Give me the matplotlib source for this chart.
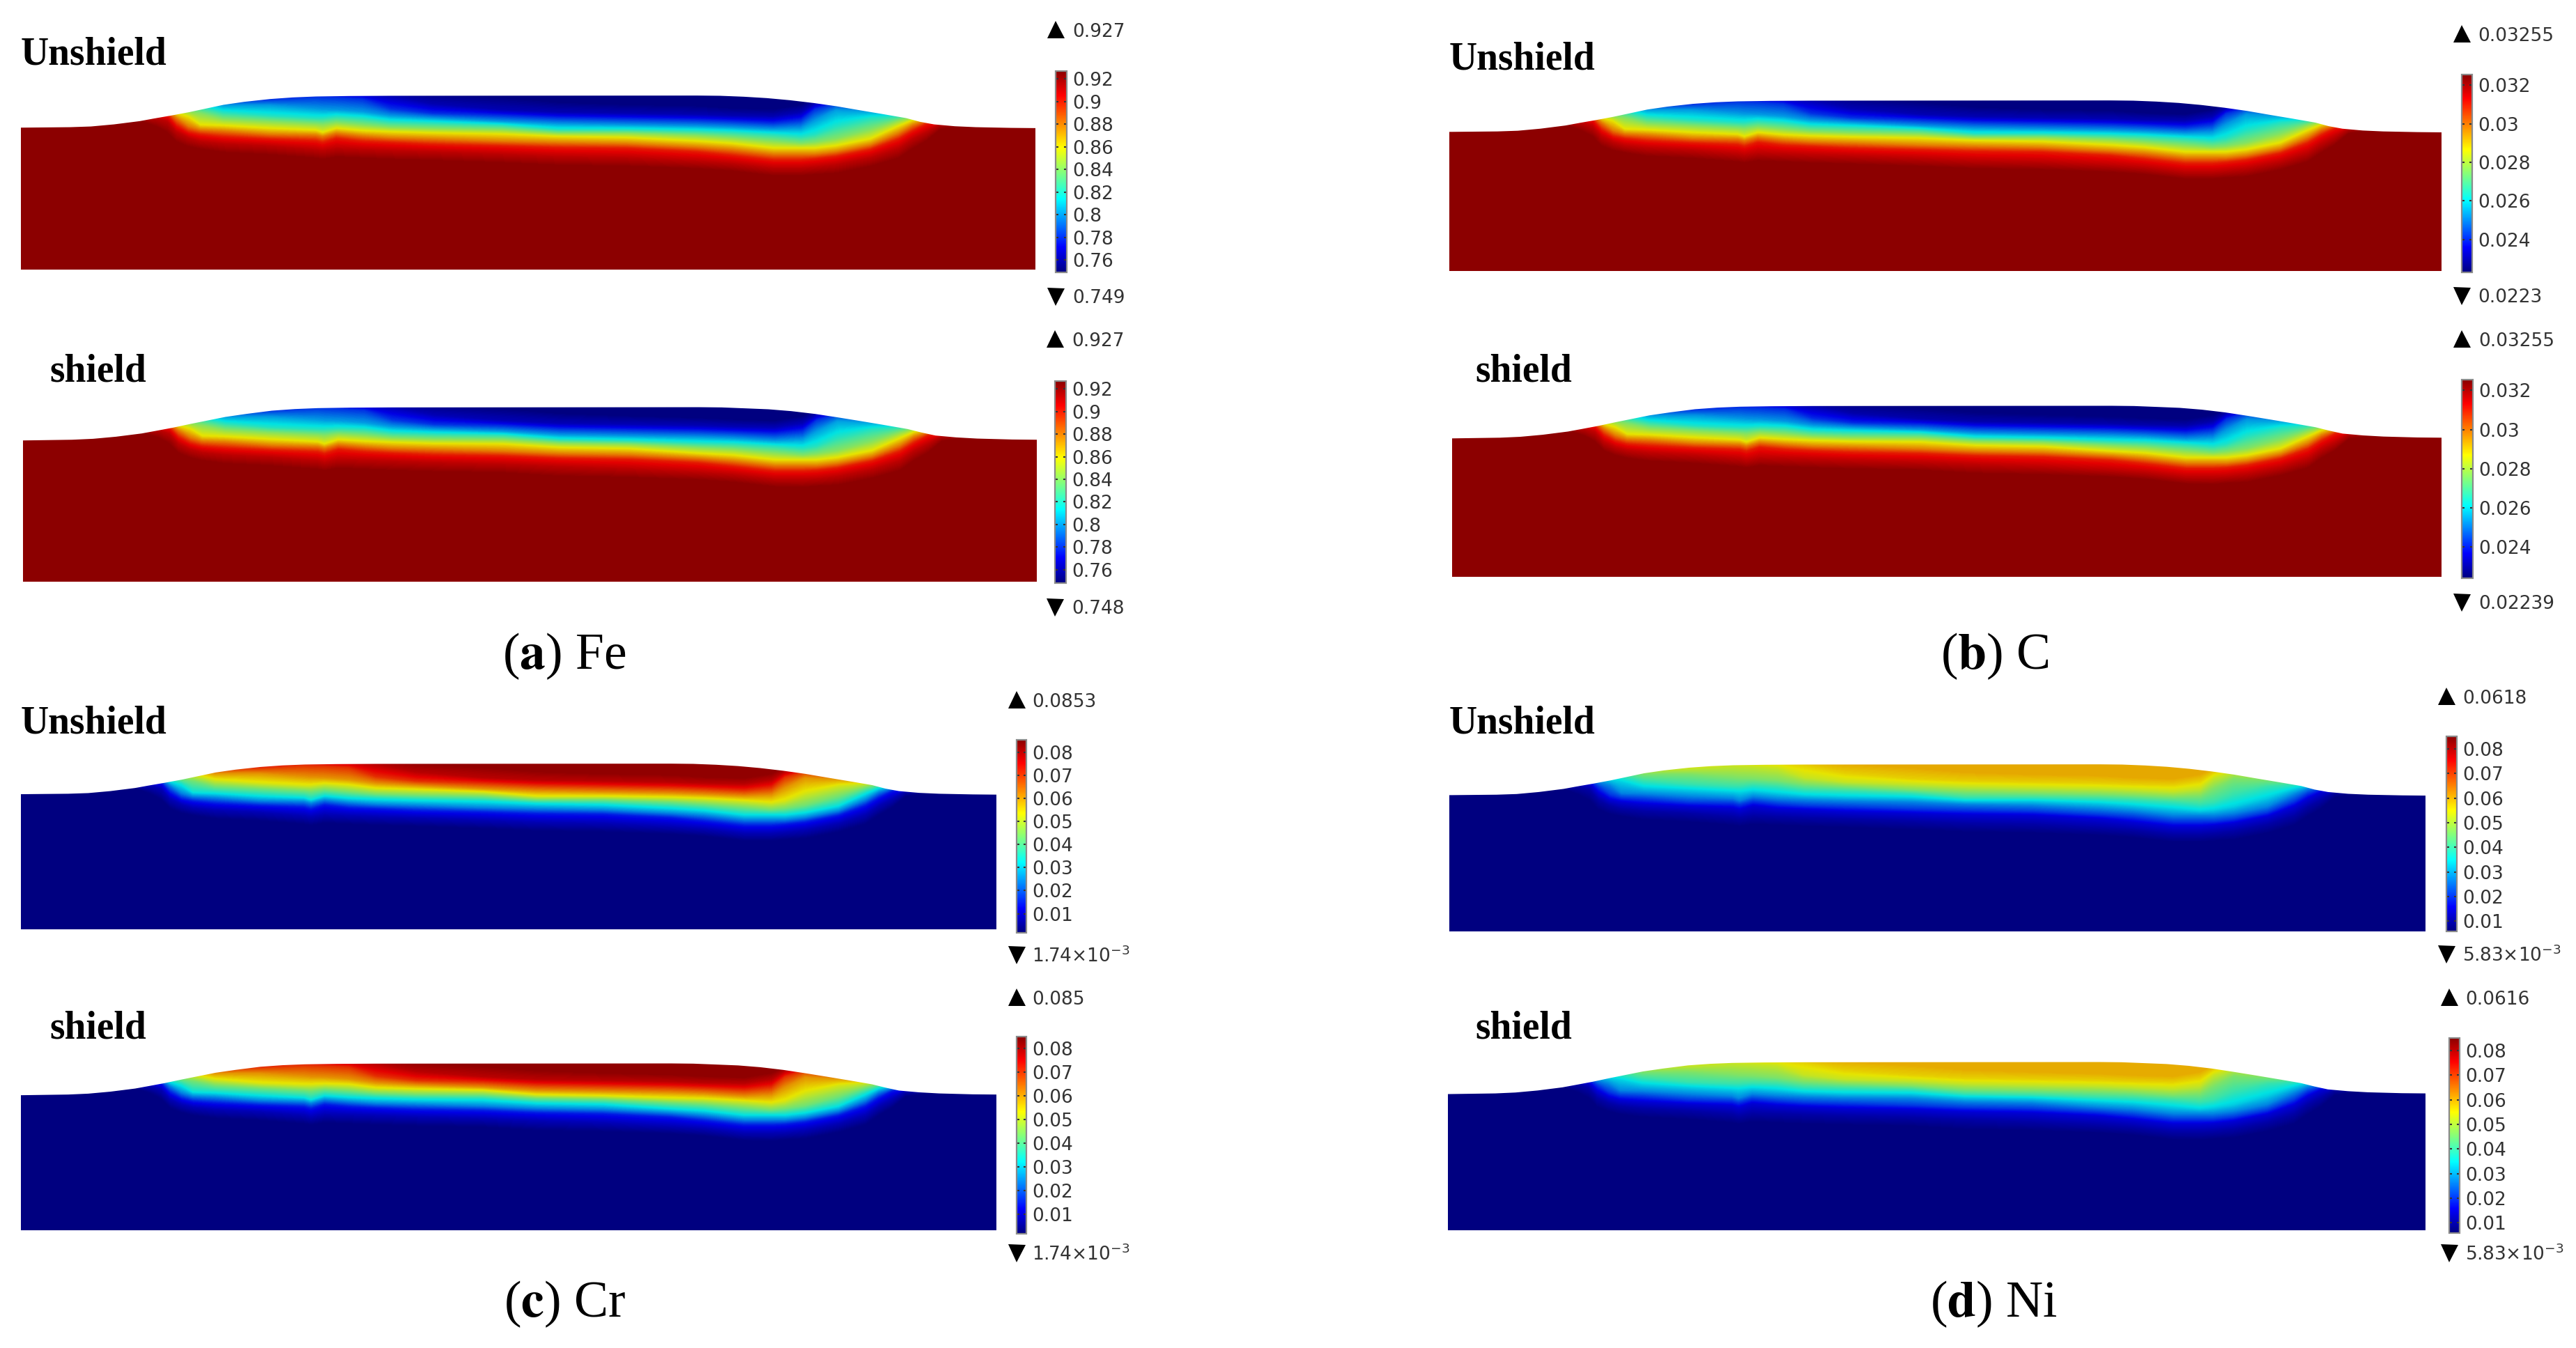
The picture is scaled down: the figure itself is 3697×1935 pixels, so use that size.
import numpy as np
from matplotlib import pyplot as plt
from matplotlib.cm import ScalarMappable
from matplotlib.colors import LinearSegmentedColormap, Normalize

W, H = 3697, 1935

# colour scale of the solver: the bar is brighter than the shaded field
scale_stops = [0.0, 0.125, 0.365, 0.62, 0.88, 1.0]
bar_colors = ['#000080', '#0000ff', '#00ffff', '#ffff00', '#ff0000', '#8b0000']
field_colors = ['#000080', '#0000e4', '#00e2e2', '#e6e400', '#e40000', '#8b0000']

# cross-section stations along the weld, and depth of the free surface
surface_x = [20, 30, 100, 130, 163, 200, 220, 245, 270, 295, 320, 350, 387, 420, 453, 500, 560, 1000,
             1033, 1067, 1100, 1133, 1167, 1200, 1233, 1267, 1300, 1320, 1340, 1370, 1400, 1450, 1486, 1496]
unshield_surface = [174, 174, 172, 169, 160, 146, 135, 122, 108, 92, 76, 63, 51, 44, 40, 38, 37, 36,
                    37, 41, 47, 56, 68, 82, 99, 116, 133, 149, 160, 168, 172, 175, 176, 176]
shield_surface = [171, 171, 168, 164, 155, 141, 130, 116, 100, 85, 70, 57, 43, 36, 32, 30, 29, 28,
                  29, 33, 37, 45, 57, 72, 88, 105, 122, 137, 150, 158, 163, 167, 168, 168]

stations = [30, 200, 225, 240, 253, 270, 287, 320, 387, 453, 463, 483, 520, 560, 620, 720, 800, 900,
            1000, 1050, 1110, 1150, 1170, 1200, 1250, 1290, 1310, 1330, 1350, 1400, 1486]

# depth of each composition band at each station, core band first, base metal last
unshield_bands = [
    [10, 25, 40, 55, 70, 85, 100, 115, 130, 145, 160],
    [5, 20, 35, 50, 65, 80, 95, 110, 125, 135, 145],
    [5, 15, 30, 45, 60, 75, 90, 105, 118, 135, 175],
    [5, 15, 30, 45, 60, 75, 92, 106, 122, 150, 200],
    [5, 20, 35, 50, 70, 90, 115, 135, 165, 195, 240],
    [5, 20, 35, 55, 78, 105, 130, 170, 195, 220, 260],
    [5, 20, 40, 60, 85, 115, 165, 185, 205, 235, 270],
    [30, 45, 60, 80, 110, 140, 168, 190, 215, 245, 285],
    [20, 35, 55, 80, 125, 150, 180, 205, 225, 255, 295],
    [10, 25, 42, 95, 135, 160, 188, 208, 232, 270, 310],
    [10, 25, 44, 98, 135, 163, 198, 215, 240, 275, 315],
    [10, 25, 46, 100, 128, 155, 180, 200, 222, 265, 305],
    [10, 25, 55, 108, 135, 165, 190, 212, 235, 270, 310],
    [15, 40, 95, 125, 150, 175, 195, 220, 240, 275, 315],
    [30, 75, 115, 135, 155, 180, 200, 225, 248, 280, 320],
    [50, 100, 125, 150, 165, 185, 205, 235, 255, 290, 330],
    [70, 110, 135, 160, 185, 200, 215, 240, 262, 300, 340],
    [80, 115, 140, 165, 185, 200, 220, 245, 265, 305, 345],
    [85, 120, 145, 170, 190, 210, 235, 260, 280, 320, 355],
    [95, 125, 150, 175, 195, 220, 245, 270, 295, 330, 365],
    [100, 128, 158, 183, 205, 235, 265, 290, 315, 350, 385],
    [80, 110, 145, 178, 215, 245, 265, 290, 315, 350, 385],
    [50, 72, 98, 145, 205, 240, 265, 290, 310, 345, 380],
    [30, 50, 70, 100, 170, 225, 255, 280, 300, 335, 375],
    [45, 65, 85, 105, 135, 185, 225, 250, 270, 305, 345],
    [65, 80, 95, 110, 125, 145, 170, 200, 225, 265, 310],
    [55, 70, 85, 100, 115, 130, 145, 165, 190, 225, 270],
    [50, 65, 80, 95, 110, 120, 130, 145, 160, 195, 235],
    [45, 60, 75, 90, 105, 115, 125, 135, 150, 160, 185],
    [10, 25, 40, 55, 70, 85, 100, 115, 130, 145, 160],
    [10, 25, 40, 55, 70, 85, 100, 115, 130, 145, 160],
]
shield_bands = [
    [5, 20, 35, 50, 65, 80, 95, 110, 125, 140, 155],
    [5, 15, 30, 45, 60, 75, 90, 105, 118, 128, 138],
    [5, 15, 25, 40, 55, 70, 85, 100, 112, 128, 165],
    [5, 15, 25, 40, 55, 70, 88, 102, 118, 145, 190],
    [5, 15, 30, 45, 65, 85, 110, 130, 158, 188, 230],
    [5, 15, 30, 50, 72, 98, 125, 160, 185, 212, 250],
    [5, 15, 35, 55, 80, 108, 155, 176, 198, 225, 262],
    [25, 38, 52, 72, 100, 128, 158, 180, 205, 235, 275],
    [12, 25, 45, 72, 118, 140, 170, 195, 215, 245, 285],
    [5, 18, 33, 85, 125, 150, 180, 200, 222, 260, 300],
    [5, 18, 35, 88, 125, 153, 190, 207, 230, 268, 305],
    [5, 18, 38, 90, 122, 145, 171, 191, 212, 255, 295],
    [5, 18, 45, 98, 125, 152, 178, 200, 222, 258, 300],
    [8, 30, 85, 115, 140, 163, 183, 208, 228, 262, 305],
    [20, 65, 105, 125, 145, 168, 188, 212, 235, 268, 310],
    [40, 88, 112, 135, 150, 170, 190, 220, 240, 275, 315],
    [60, 100, 125, 150, 170, 185, 205, 230, 250, 285, 330],
    [70, 105, 130, 155, 175, 190, 210, 235, 255, 295, 335],
    [78, 110, 135, 160, 185, 205, 230, 250, 270, 310, 345],
    [85, 115, 140, 165, 188, 212, 238, 262, 285, 320, 355],
    [90, 118, 148, 176, 198, 228, 258, 282, 305, 340, 375],
    [70, 100, 135, 170, 208, 238, 258, 282, 305, 340, 378],
    [42, 62, 88, 135, 198, 232, 258, 282, 302, 338, 372],
    [20, 38, 58, 90, 160, 218, 248, 272, 292, 328, 368],
    [35, 55, 75, 95, 125, 178, 218, 242, 262, 298, 338],
    [55, 70, 85, 100, 115, 138, 165, 195, 220, 260, 305],
    [45, 60, 75, 90, 105, 122, 138, 158, 183, 218, 262],
    [40, 55, 70, 85, 100, 112, 122, 138, 152, 188, 228],
    [35, 50, 65, 80, 95, 105, 118, 128, 142, 152, 178],
    [5, 20, 35, 50, 65, 80, 95, 110, 125, 140, 155],
    [5, 20, 35, 50, 65, 80, 95, 110, 125, 140, 155],
]

# mass fraction in each band
fe_unshield = [0.75, 0.76, 0.78, 0.80, 0.82, 0.84, 0.86, 0.88, 0.90, 0.915, 0.927]
fe_shield = [0.749, 0.76, 0.78, 0.80, 0.82, 0.84, 0.86, 0.88, 0.90, 0.915, 0.927]
c_unshield = [0.02235, 0.02295, 0.0241, 0.02525, 0.0264, 0.02755, 0.0287, 0.02985, 0.031, 0.0318, 0.03255]
c_shield = [0.0224, 0.02295, 0.0241, 0.02525, 0.0264, 0.02755, 0.0287, 0.02985, 0.031, 0.0318, 0.03255]
cr_unshield = [0.0848, 0.0801, 0.0708, 0.0613, 0.052, 0.0426, 0.0331, 0.0238, 0.0144, 0.0073, 0.00174]
cr_shield = [0.0846, 0.0798, 0.0706, 0.0612, 0.052, 0.0426, 0.0331, 0.0238, 0.0144, 0.0073, 0.00174]
ni_unshield = [0.0605, 0.0570, 0.0521, 0.0457, 0.0395, 0.0332, 0.0269, 0.0206, 0.0143, 0.0096, 0.00583]
ni_shield = [0.0603, 0.0568, 0.052, 0.0457, 0.0395, 0.0332, 0.0269, 0.0206, 0.0143, 0.0096, 0.00583]

# colour bar ticks
fe_ticks = [0.76, 0.78, 0.80, 0.82, 0.84, 0.86, 0.88, 0.90, 0.92]
fe_labels = ['0.76', '0.78', '0.8', '0.82', '0.84', '0.86', '0.88', '0.9', '0.92']
c_ticks = [0.024, 0.026, 0.028, 0.03, 0.032]
c_labels = ['0.024', '0.026', '0.028', '0.03', '0.032']
cr_ticks = [0.01, 0.02, 0.03, 0.04, 0.05, 0.06, 0.07, 0.08]
cr_labels = ['0.01', '0.02', '0.03', '0.04', '0.05', '0.06', '0.07', '0.08']

# title, title x and baseline, field box (l, r, t, b), values, bar box, bar range, ticks, labels,
# max text and y, min text and y
panels = [
    ('Unshield', 30, 92, (30, 1486, 137, 387), fe_unshield, (1515, 1531, 102, 391), (0.749, 0.927),
     fe_ticks, fe_labels, '0.927', 42, '0.749', 424),
    ('shield', 71, 547, (33, 1488, 584, 835), fe_shield, (1514, 1530, 547, 837), (0.748, 0.927),
     fe_ticks, fe_labels, '0.927', 486, '0.748', 870),
    ('Unshield', 2080, 99, (2080, 3504, 144, 389), c_unshield, (3533, 3548, 107, 391), (0.0223, 0.03255),
     c_ticks, c_labels, '0.03255', 48, '0.0223', 423),
    ('shield', 2117, 547, (2084, 3504, 582, 828), c_shield, (3533, 3549, 545, 830), (0.02239, 0.03255),
     c_ticks, c_labels, '0.03255', 486, '0.02239', 863),
    ('Unshield', 30, 1052, (30, 1430, 1096, 1334), cr_unshield, (1459, 1473, 1062, 1339), (0.00174, 0.0853),
     cr_ticks, cr_labels, '0.0853', 1004, r'1.74×10$^{-3}$', 1369),
    ('shield', 71, 1490, (30, 1430, 1526, 1766), cr_shield, (1459, 1473, 1488, 1771), (0.00174, 0.085),
     cr_ticks, cr_labels, '0.085', 1431, r'1.74×10$^{-3}$', 1797),
    ('Unshield', 2080, 1052, (2080, 3481, 1097, 1337), ni_unshield, (3511, 3526, 1057, 1337), (0.00583, 0.0851),
     cr_ticks, cr_labels, '0.0618', 999, r'5.83×10$^{-3}$', 1368),
    ('shield', 2117, 1490, (2078, 3481, 1524, 1766), ni_shield, (3515, 3530, 1490, 1770), (0.00583, 0.0851),
     cr_ticks, cr_labels, '0.0616', 1431, r'5.83×10$^{-3}$', 1797),
]

captions = [('a', 'Fe', 810, 960), ('b', 'C', 2863, 960), ('c', 'Cr', 810, 1890), ('d', 'Ni', 2861, 1890)]

bar_cmap = LinearSegmentedColormap.from_list('solver_bar', list(zip(scale_stops, bar_colors)), N=512)
field_cmap = LinearSegmentedColormap.from_list('solver_field', list(zip(scale_stops, field_colors)), N=512)


def box_axes(fig, left, right, top, bottom):
    return fig.add_axes([left / W, 1 - bottom / H, (right - left) / W, (bottom - top) / H])


fig = plt.figure(figsize=(W / 100, H / 100), dpi=100)
over = fig.add_axes([0, 0, 1, 1], zorder=5)
over.set_xlim(0, W)
over.set_ylim(H, 0)
over.axis('off')

for title, tx, ty, box, values, bar, rng, ticks, labels, top_txt, top_y, low_txt, low_y in panels:
    norm = Normalize(rng[0], rng[1])
    is_shield = title == 'shield'
    bands = np.array(shield_bands if is_shield else unshield_bands, dtype=float)
    surface = shield_surface if is_shield else unshield_surface
    depth_top, depth_bottom = (28, 780) if is_shield else (37, 786)

    ax = box_axes(fig, *box)
    rows = np.hstack([np.full((len(stations), 1), -50.0), bands, np.full((len(stations), 1), 900.0)])
    X = np.tile(np.array(stations, dtype=float)[:, None], (1, rows.shape[1]))
    Z = np.tile(np.array([values[0]] + values + [values[-1]]), (len(stations), 1))
    ax.contourf(X, rows, Z, levels=np.linspace(min(values), max(values), 200), cmap=field_cmap, norm=norm, extend='both')
    ax.fill_between(surface_x, surface, -60, color='white', lw=0)
    ax.set_xlim(30, 1486)
    ax.set_ylim(depth_bottom, depth_top)
    ax.axis('off')

    cax = box_axes(fig, *bar)
    cb = fig.colorbar(ScalarMappable(norm=norm, cmap=bar_cmap), cax=cax)
    cb.set_ticks(ticks, labels=labels)
    cb.minorticks_off()
    cb.outline.set_edgecolor('#8a8a8a')
    cb.outline.set_linewidth(1.6)
    cax.tick_params(direction='in', length=3, width=1.5, color='#333333', left=True, right=True,
                    labelsize=19, labelcolor='#333333', pad=6)

    over.text(tx, ty, title, family='Liberation Serif', weight='bold', fontsize=40, va='baseline', color='black')
    over.plot(bar[0], top_y, marker='^', ms=18, color='black', mew=0)
    over.plot(bar[0], low_y + 2, marker='v', ms=18, color='black', mew=0)
    over.text(bar[1] + 8, top_y + 4, top_txt, fontsize=19, color='#333333', va='center')
    over.text(bar[1] + 8, low_y + 4, low_txt, fontsize=19, color='#333333', va='center')

for letter, name, cx, cy in captions:
    over.text(cx, cy, '(' + r'$\mathbf{' + letter + '}$' + ') ' + name, family='Liberation Serif',
              math_fontfamily='stix', fontsize=53, ha='center', va='baseline', color='black')

fig.savefig('out.png', dpi=100)
